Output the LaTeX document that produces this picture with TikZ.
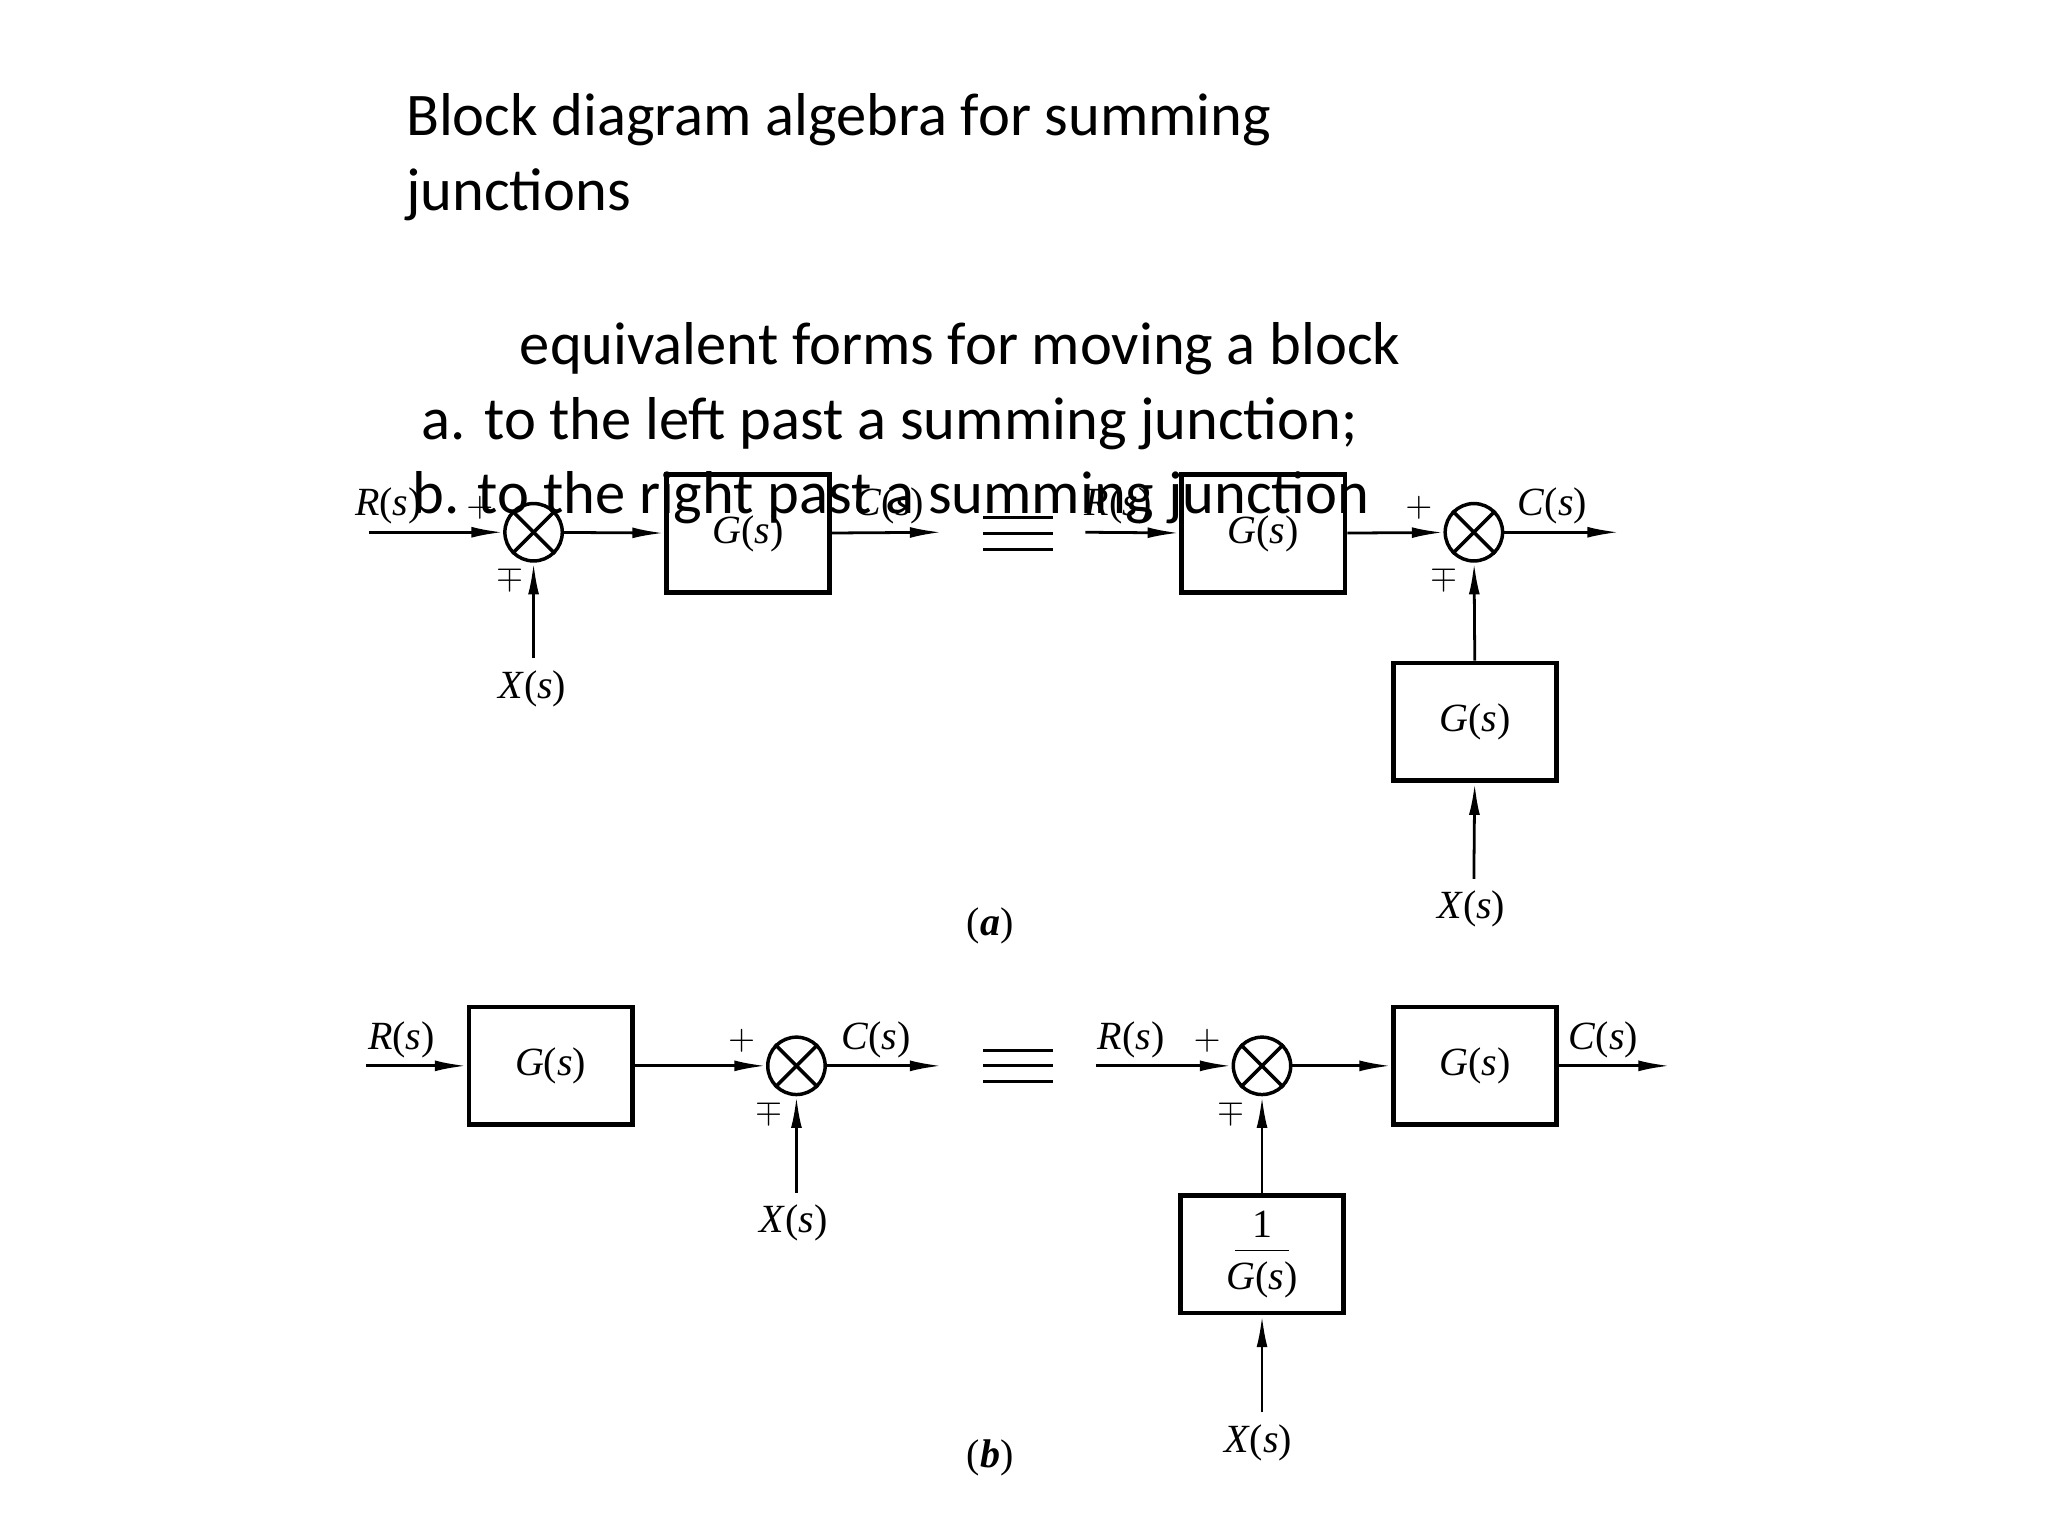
\documentclass[tikz,border=0pt]{standalone}
\usepackage{fontspec}
\setmainfont{Liberation Serif}
\newfontfamily\titlefont{Carlito}
\usetikzlibrary{arrows.meta}
\newcommand{\fn}[2]{\textit{#1}(\textit{#2})}
\begin{document}
\begin{tikzpicture}[x=0.013213cm,y=-0.013213cm,
  blk/.style={draw,line width=1.4pt,minimum width=1.65cm,minimum height=1.19cm,font=\fontsize{11.5}{13}\selectfont},
  sum/.style={draw,circle,line width=1pt,minimum size=0.58cm,inner sep=0pt},
  lbl/.style={font=\fontsize{11.5}{13}\selectfont,inner sep=1pt},
  sgn/.style={font=\fontsize{10}{12}\selectfont,inner sep=0pt},
  ar/.style={line width=0.8pt,-{Latex[length=0.32cm,width=0.11cm]}},
  ln/.style={line width=0.8pt},
  ttl/.style={font=\titlefont\fontsize{17.4}{20}\selectfont,anchor=base west,inner sep=0pt}]
\useasboundingbox[fill=white] (0,0) rectangle (1566,1174.5);
% (a) left
\coordinate (ain) at (282,407);
\node[sum] (s1) at (408,407) {};
\node[blk] (g1) at (572,408) {\fn Gs};
\coordinate (aout) at (720,407);
\coordinate (x1) at (408,503);
\draw[ar] (ain) -- (s1);
\draw[ar] (s1) -- (g1);
\draw[ar] (g1) -- (aout);
\draw[ar] (x1) -- (s1);
\node[lbl] at (297,387) {\fn Rs};
\node[lbl] at (680,387) {\fn Cs};
\node[lbl] at (407,527) {\fn Xs};
\node[sgn] at (367,388) {$+$};
\node[sgn] at (390,442) {$\mp$};
% (a) right
\coordinate (ain2) at (830,407);
\node[blk] (g2) at (966,408) {\fn Gs};
\node[sum] (s2) at (1127,407) {};
\coordinate (aout2) at (1238,407);
\node[blk] (g3) at (1128,552) {\fn Gs};
\coordinate (x2) at (1127,672);
\draw[ar] (ain2) -- (g2);
\draw[ar] (g2) -- (s2);
\draw[ar] (s2) -- (aout2);
\draw[ar] (g3) -- (s2);
\draw[ar] (x2) -- (g3);
\node[lbl] at (855,387) {\fn Rs};
\node[lbl] at (1187,387) {\fn Cs};
\node[lbl] at (1125,695) {\fn Xs};
\node[sgn] at (1085,388) {$+$};
\node[sgn] at (1104,442) {$\mp$};
\foreach \yy in {396,408,420} \draw[ln] (752,\yy) -- (805,\yy);
\node[font=\fontsize{11.5}{13}\selectfont] at (757,708) {(\textbf{\itshape a})};
% (b) left
\coordinate (bin) at (280,815);
\node[blk] (g4) at (421,815) {\fn Gs};
\node[sum] (s3) at (609,815) {};
\coordinate (bout) at (720,815);
\coordinate (x3) at (609,912);
\draw[ar] (bin) -- (g4);
\draw[ar] (g4) -- (s3);
\draw[ar] (s3) -- (bout);
\draw[ar] (x3) -- (s3);
\node[lbl] at (307,795) {\fn Rs};
\node[lbl] at (670,795) {\fn Cs};
\node[lbl] at (607,935) {\fn Xs};
\node[sgn] at (567,796) {$+$};
\node[sgn] at (588,850) {$\mp$};
\foreach \yy in {803,815,827} \draw[ln] (752,\yy) -- (805,\yy);
% (b) right
\coordinate (bin2) at (838,815);
\node[sum] (s4) at (965,815) {};
\node[blk] (g5) at (1128,815) {\fn Gs};
\coordinate (bout2) at (1277,815);
\node[blk,align=center] (g6) at (965,959) {1\\[-9pt]\rule{1.35em}{0.4pt}\\[-2pt]\fn Gs};
\coordinate (x4) at (965,1080);
\draw[ar] (bin2) -- (s4);
\draw[ar] (s4) -- (g5);
\draw[ar] (g5) -- (bout2);
\draw[ar] (g6) -- (s4);
\draw[ar] (x4) -- (g6);
\node[lbl] at (865,795) {\fn Rs};
\node[lbl] at (1226,795) {\fn Cs};
\node[lbl] at (962,1103) {\fn Xs};
\node[sgn] at (923,796) {$+$};
\node[sgn] at (941,850) {$\mp$};
\node[font=\fontsize{11.5}{13}\selectfont] at (757,1115) {(\textbf{\itshape b})};
% crosses
\foreach \s in {s1,s2,s3,s4} {
  \draw[line width=1pt] (\s.north east) -- (\s.south west);
  \draw[line width=1pt] (\s.north west) -- (\s.south east);
}
% title
\node[ttl] at (310,104) {Block diagram algebra for summing};
\node[ttl] at (310,161) {junctions};
\node[ttl] at (397,279) {equivalent forms for moving a block};
\node[ttl] at (322,336) {a. to the left past a summing junction;};
\node[ttl] at (315,393) {b. to the right past a summing junction};
\end{tikzpicture}
\end{document}
